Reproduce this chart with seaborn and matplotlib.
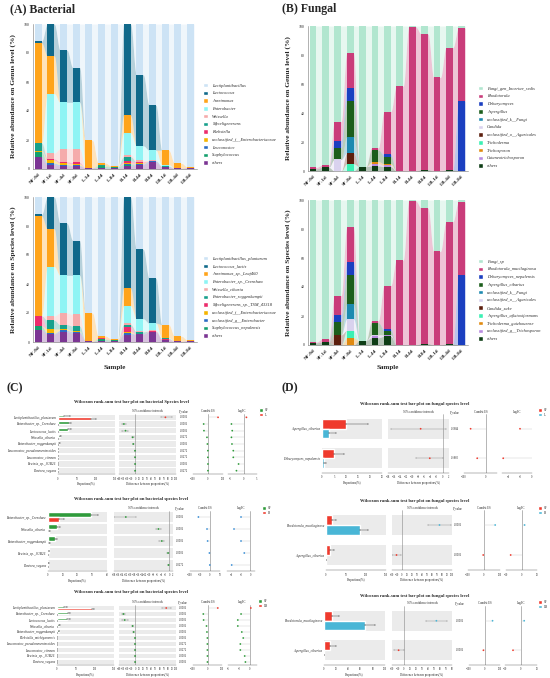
import numpy as np
import pandas as pd
import matplotlib
matplotlib.use('Agg')
import matplotlib.pyplot as plt
from matplotlib.patches import Patch
import seaborn as sns

sns.set_style('white')
plt.rcParams['font.family'] = ['Liberation Serif', 'DejaVu Serif']
plt.rcParams['axes.linewidth'] = 0.4

W, H = 550, 678

# ---------------- 数据 ----------------
samples = ['NF-0d', 'SF-1d', 'SF-4d', 'SF-8d', 'L-1d', 'L-4d', 'L-8d',
           'B-1d', 'B-4d', 'B-8d', 'LB-1d', 'LB-4d', 'LB-8d']

bac_genus_names = ['Lactiplantibacillus', 'Lactococcus', 'Aureimonas', 'Enterobacter', 'Weissella',
                   'Myceligenerans', 'Klebsiella', 'unclassified_f__Enterobacteriaceae',
                   'Leuconostoc', 'Staphylococcus', 'others']
bac_genus_values = [
    [12, 0, 18, 30, 80.2, 95.8, 97.7, 0, 35, 56, 87, 96, 98.5],
    [1, 22, 36, 24, 0, 0, 0, 63, 49, 31, 0, 0, 0],
    [69, 26, 0, 0, 19, 1.5, 0.8, 12, 0, 0, 10, 3.5, 0.5],
    [0, 41, 32, 32, 0, 0, 0, 15, 10, 7, 1, 0, 0],
    [0, 4, 9, 9.5, 0, 0, 0, 1.5, 1, 0.5, 0, 0, 0],
    [5.5, 0, 0, 0, 0, 0.4, 0.2, 3, 0, 0, 0.5, 0, 0],
    [0, 1, 1, 1, 0, 0, 0, 1.5, 1, 0, 0, 0, 0],
    [0.5, 2, 1, 1, 0, 0.5, 0, 0.5, 0.5, 0, 0, 0, 0],
    [0, 1, 1, 0.5, 0, 0, 0, 0.5, 0.5, 1, 0, 0, 0],
    [4, 0, 0, 0, 0, 1, 0.8, 1, 0, 0, 0, 0, 0],
    [8, 3, 2, 2, 0.8, 0.8, 0.5, 2, 3, 4.5, 1.5, 0.5, 1],
]

bac_species_names = ['Lactiplantibacillus_plantarum', 'Lactococcus_lactis', 'Aureimonas_sp._Leaf460',
                     'Enterobacter_sp._Crenshaw', 'Weissella_cibaria', 'Enterobacter_roggenkampii',
                     'Myceligenerans_sp._TSM_43318', 'unclassified_f__Enterobacteriaceae',
                     'unclassified_g__Enterobacter', 'Staphylococcus_nepalensis', 'others']
bac_species_values = [
    [12, 0, 18, 30, 80, 95.8, 97.7, 0, 36, 56, 88, 96, 98.5],
    [1, 22, 36, 24, 0, 0, 0, 63, 48, 31, 0, 0, 0],
    [69, 26, 0, 0, 19.5, 1.5, 0.8, 12, 0, 0, 9, 3.5, 0.5],
    [0, 34, 26, 27, 0, 0, 0, 12, 8.5, 5, 0.5, 0, 0],
    [0, 3, 8, 8, 0, 0, 0, 1, 0.5, 0.5, 0, 0, 0],
    [0, 6, 3, 3.5, 0, 0, 0, 1.5, 1.5, 0, 0.5, 0, 0],
    [7, 0, 0, 0, 0, 0.4, 0.2, 3.5, 0, 0.5, 0.5, 0, 0],
    [0, 3, 1, 0.5, 0, 0.5, 0, 1, 0, 0, 0, 0, 0],
    [0, 0.5, 1, 1, 0, 0, 0, 1, 0, 0, 0, 0, 0],
    [2.5, 0, 0, 0, 0, 1, 0.8, 0, 0, 0, 0, 0, 0],
    [8.5, 5.5, 7, 6, 0.5, 0.8, 0.5, 5, 5.5, 7, 1.5, 0.5, 1],
]

fun_genus_names = ['Fungi_gen_Incertae_sedis', 'Rhodotorula', 'Debaryomyces', 'Aspergillus',
                   'unclassified_k__Fungi', 'Candida', 'unclassified_o__Agaricales', 'Trichoderma',
                   'Trichosporon', 'Cutaneotrichosporon', 'others']
fun_genus_values = [
    [97.5, 96, 66, 18.5, 97, 84, 59, 41.5, 0.5, 5.5, 35.5, 15, 1.5],
    [1, 1.5, 13, 24, 0, 1.5, 29.5, 58.5, 99.5, 93.5, 64.5, 84.2, 50.5],
    [0, 0, 5, 9.5, 0, 0, 1.5, 0, 0, 0, 0, 0, 48],
    [0, 0, 8, 24.5, 0, 8, 5, 0, 0, 0, 0, 0, 0],
    [0, 0, 0, 11, 0, 0, 0, 0, 0, 0, 0, 0, 0],
    [0, 0, 8, 0, 0, 0, 0, 0, 0, 0, 0, 0, 0],
    [0, 0, 0, 7.5, 0, 0, 0, 0, 0, 0, 0, 0, 0],
    [0, 0, 0, 5, 0, 0, 0, 0, 0, 0, 0, 0, 0],
    [0, 0, 0, 0, 0, 1.5, 1.2, 0, 0, 0, 0, 0, 0],
    [0, 0, 0, 0, 0, 1.5, 0.8, 0, 0, 0, 0, 0, 0],
    [1.5, 2.5, 0, 0, 3, 3.5, 3, 0, 0, 1, 0, 0.8, 0],
]

fun_species_names = ['Fungi_sp', 'Rhodotorula_mucilaginosa', 'Debaryomyces_nepalensis', 'Aspergillus_cibarius',
                     'unclassified_k__Fungi', 'unclassified_o__Agaricales', 'Candida_sake',
                     'Aspergillus_aflatoxiformans', 'Trichoderma_guizhouense', 'unclassified_g__Trichosporon',
                     'others']
fun_species_values = [
    [98, 96, 66, 18.5, 97, 83.2, 59, 41.5, 0.5, 5.5, 35.5, 15, 1.5],
    [0.5, 2, 13, 24, 0, 1.4, 30, 58.5, 99.5, 93.5, 64.5, 84.2, 50.5],
    [0, 0, 5, 9.5, 0, 0, 1.5, 0, 0, 0, 0, 0, 48],
    [0, 0, 9, 20, 0, 8.4, 2.5, 0, 0, 0, 0, 0, 0],
    [0, 0, 0, 10, 0, 0, 0, 0, 0, 0, 0, 0, 0],
    [0, 0, 0, 8, 0, 0.8, 0, 0, 0, 0, 0, 0, 0],
    [0, 0, 7, 0, 0, 0, 0, 0, 0, 0, 0, 0, 0],
    [0, 0, 0, 5, 0, 0, 0, 0, 0, 0, 0, 0, 0],
    [0, 0, 0, 5, 0, 0, 0, 0, 0, 0, 0, 0, 0],
    [0, 0, 0, 0, 0, 1.2, 1, 0, 0, 0, 0, 0, 0],
    [1.5, 2, 0, 0, 3, 5, 6, 0, 0, 1, 0, 0.8, 0],
]

bac_colors = ['#cde3f5', '#10698a', '#ffa41b', '#8ff4f4', '#f5abab', '#17a08c',
              '#ec2c6c', '#f5b400', '#2b6cc4', '#14a06e', '#7b3593']
fun_colors = ['#b1e6cf', '#c93c7a', '#1b3fc0', '#1c5e1c', '#1d8ab0', '#d9d2ee',
              '#5c1f0e', '#3cf0b4', '#e08a10', '#b98be0', '#0e3d16']

# Wilcoxon 数据
c1_names = ['Lactiplantibacillus_plantarum', 'Enterobacter_sp._Crenshaw', 'Lactococcus_lactis',
            'Weissella_cibaria', 'Enterobacter_roggenkampii', 'Leuconostoc_pseudomesenteroides',
            'Leuconostoc_citreum', 'Erwinia_sp._JUB26', 'Pantoea_vagans']
c1_sf = [15, 28, 26.5, 5, 3.5, 0.8, 0.6, 0.4, 0.3]
c1_l = [88, 0.3, 0.2, 0.3, 0.1, 0.05, 0.05, 0.02, 0.02]
c1_sf_err = [16, 5, 7, 3, 1, 0.5, 0.4, 0.3, 0.2]
c1_l_err = [12, 0.3, 0.2, 0.3, 0.1, 0.05, 0.05, 0.02, 0.02]
c1_diff = [74, -28, -24, -6.5, -5, -0.6, -0.5, -0.4, -0.3]
c1_lo = [62, -32, -32, -8, -6, -1, -1, -0.8, -0.6]
c1_hi = [90, -24, -18, -4, -3.5, 0, 0, 0, 0]
c1_p = ['0.0006', '0.0006', '0.0006', '0.0272', '0.0006', '0.0272', '0.0272', '0.0006', '0.0272']
c1_es = [67, -29, -27, -7, -4, -1, -1, -0.5, -0.5]
c1_fc = [1, -4.7, -4.4, -4.7, -4.5, -4, -4, -2, -2.8]

c2_names = ['Enterobacter_sp._Crenshaw', 'Weissella_cibaria', 'Enterobacter_roggenkampii',
            'Erwinia_sp._JUB26', 'Pantoea_vagans']
c2_sf = [29, 6, 4.5, 0.4, 0.3]
c2_b = [7.5, 1, 1, 0.05, 0.05]
c2_sf_err = [5, 2, 1.5, 0.3, 0.2]
c2_b_err = [3.5, 0.5, 0.5, 0.05, 0.05]
c2_diff = [-22, -5.4, -3.7, -0.5, -0.3]
c2_lo = [-28, -6.5, -5, -0.8, -0.6]
c2_hi = [-17, -4, -2.5, -0.2, -0.1]
c2_p = ['0.0006', '0.0006', '0.0006', '0.0006', '0.0272']
c2_es = [-58, -15, -12, -3, -1]
c2_fc = [-2, -3.5, -2, -1.3, -4]

c3_names = ['Lactiplantibacillus_plantarum', 'Enterobacter_sp._Crenshaw', 'Lactococcus_lactis',
            'Weissella_cibaria', 'Enterobacter_roggenkampii', 'Klebsiella_michiganensis',
            'Leuconostoc_pseudomesenteroides', 'Leuconostoc_citreum', 'Erwinia_sp._JUB26', 'Pantoea_vagans']
c3_sf = [17.5, 29, 27, 6, 4.5, 0.6, 0.8, 0.6, 0.4, 0.3]
c3_lb = [93, 0.5, 0.1, 0.1, 0.2, 0.05, 0.05, 0.05, 0.02, 0.02]
c3_sf_err = [9, 5, 7, 2, 1.5, 0.4, 0.5, 0.4, 0.3, 0.2]
c3_lb_err = [5, 0.3, 0.1, 0.1, 0.1, 0.05, 0.05, 0.05, 0.02, 0.02]
c3_diff = [76, -29, -26, -6.5, -4, -0.6, -0.7, -0.5, -0.4, -0.3]
c3_lo = [66, -33, -33, -8, -5.5, -1, -1, -1, -0.8, -0.6]
c3_hi = [88, -25, -19, -5, -2.5, 0, 0, 0, 0, 0]
c3_p = ['0.0006', '0.0006', '0.0006', '0.0006', '0.0006', '0.0006', '0.0272', '0.0272', '0.0006', '0.0006']
c3_es = [71, -29, -27, -7, -4, -1, -1, -1, -0.5, -0.5]
c3_fc = [0.3, -2.4, -3.3, -3.3, -2.2, -1.8, -2.6, -2.6, -1.4, -1.2]

d1_names = ['Aspergillus_cibarius', 'Debaryomyces_nepalensis']
d1_sf = [10, 4.8]
d1_l = [3, 0.8]
d1_sf_err = [9, 4.4]
d1_l_err = [3, 0.7]
d1_diff = [-7.3, -4.3]
d1_lo = [-16.9, -8.7]
d1_hi = [1.0, 0]
d1_p = ['0.1984', '0.1860']
d1_es = [-70, -40]
d1_fc = [-2, -4.8]

d2_names = ['Rhodotorula_mucilaginosa', 'Aspergillus_cibarius']
d2_sf = [15, 11]
d2_b = [85, 0.1]
d2_sf_err = [10, 10]
d2_b_err = [21, 0.1]
d2_diff = [75, -11]
d2_lo = [52, -20]
d2_hi = [98, -2]
d2_p = ['0.0006', '0.0006']
d2_es = [70, -5]
d2_fc = [2, -7]

d3_names = ['Rhodotorula_mucilaginosa', 'Aspergillus_cibarius']
d3_sf = [13, 10]
d3_lb = [67, 0.1]
d3_sf_err = [11, 9]
d3_lb_err = [17, 0.1]
d3_diff = [54, -9]
d3_lo = [36, -17]
d3_hi = [72, -0.5]
d3_p = ['0.0006', '0.0006']
d3_es = [52, -7]
d3_fc = [2, -5]

# ---------------- 画图 ----------------
fig = plt.figure(figsize=(5.5, 6.78), dpi=100)


def rect(x0, y0, x1, y1):
    return [x0 / W, 1 - y1 / H, (x1 - x0) / W, (y1 - y0) / H]


def flow_path(x, vals, w):
    # 柱子之间用平滑的 S 形曲线连接（冲积图效果）
    t = np.linspace(0, 1, 16)
    s = (1 - np.cos(np.pi * t)) / 2
    xs, ys = [], []
    for i in range(len(x)):
        xs += [x[i] - w / 2, x[i] + w / 2]
        ys += [vals[i], vals[i]]
        if i < len(x) - 1:
            x0, x1 = x[i] + w / 2, x[i + 1] - w / 2
            xs += list(x0 + (x1 - x0) * t[1:-1])
            ys += list(vals[i] + (vals[i + 1] - vals[i]) * s[1:-1])
    return np.array(xs), np.array(ys)


def stacked(box, names, colors, values, ylabel, ylab_x, leg_xy, show_xlabel):
    ax = fig.add_axes(rect(*box))
    x = np.arange(len(samples))
    w = 0.55
    base = np.zeros(len(x))
    for name, col, vals in reversed(list(zip(names, colors, values))):
        vals = np.array(vals, float)
        xs, lo = flow_path(x, base, w)
        _, hi = flow_path(x, base + vals, w)
        ax.fill_between(xs, lo, hi, color=col, alpha=0.3, lw=0, zorder=1)
        ax.bar(x, vals, w, bottom=base, color=col, lw=0, zorder=2)
        base = base + vals
    ax.set_xlim(-0.4, len(x) - 0.5)
    ax.set_ylim(0, 100)
    ax.set_yticks([0, 20, 40, 60, 80, 100])
    ax.tick_params(axis='y', labelsize=2.8, length=1.5, width=0.3, pad=1)
    ax.set_xticks(x)
    ax.set_xticklabels(samples, rotation=45, ha='right', rotation_mode='anchor',
                       fontsize=3.6, fontweight='bold')
    ax.tick_params(axis='x', length=1.5, width=0.3, pad=1)
    sns.despine(ax=ax)
    for s in ['left', 'bottom']:
        ax.spines[s].set_color('#777777')
    yc = (box[1] + box[3]) / 2
    fig.text(ylab_x / W, 1 - yc / H, ylabel, rotation=90, ha='center', va='center',
             fontsize=5.3, fontweight='bold')
    if show_xlabel:
        fig.text((box[0] + box[2]) / 2 / W, 1 - 367 / H, 'Sample', ha='center', va='center',
                 fontsize=5, fontweight='bold')
    handles = [Patch(facecolor=c, label=n) for n, c in zip(names, colors)]
    fig.legend(handles=handles, loc='upper left', bbox_to_anchor=(leg_xy[0] / W, 1 - leg_xy[1] / H),
               frameon=False, prop={'style': 'italic', 'size': 3.2}, handlelength=1.15,
               handleheight=1.15, labelspacing=0.68, handletextpad=0.9, borderpad=0, borderaxespad=0)


stacked((33, 24, 197, 169), bac_genus_names, bac_colors, bac_genus_values,
        'Relative abundance on Genus level (%)', 13, (203, 83), False)
stacked((33, 197, 197, 342), bac_species_names, bac_colors, bac_species_values,
        'Relative abundance on Species level (%)', 13, (203, 256), True)
stacked((308, 26, 468, 171), fun_genus_names, fun_colors, fun_genus_values,
        'Relative abundance on Genus level (%)', 288, (478, 86), False)
stacked((308, 200, 468, 345), fun_species_names, fun_colors, fun_species_values,
        'Relative abundance on Species level (%)', 288, (478, 259), True)

fig.text(10 / W, 1 - 9 / H, '(A) Bacterial', fontsize=8.5, fontweight='bold', va='center')
fig.text(282 / W, 1 - 9 / H, '(B) Fungal', fontsize=8.5, fontweight='bold', va='center')
fig.text(6 / W, 1 - 388 / H, '(C)', fontsize=8.5, fontweight='bold', va='center')
fig.text(282 / W, 1 - 388 / H, '(D)', fontsize=8.5, fontweight='bold', va='center')


def small_axis(ax, n, xlim, ticks):
    ax.set_ylim(n - 0.5, -0.5)
    ax.set_xlim(*xlim)
    ax.set_xticks(ticks)
    ax.set_yticks([])
    ax.tick_params(axis='x', labelsize=1.9, length=1, width=0.3, pad=0.8)
    for s in ['left', 'top', 'right']:
        ax.spines[s].set_visible(False)
    ax.spines['bottom'].set_color('#555555')
    ax.spines['bottom'].set_linewidth(0.3)
    ax.patch.set_alpha(0)


def wilcox(g, title, names, v1, v2, e1, e2, diff, lo, hi, pv, es, fc, groups, cols,
           bar_lim, bar_ticks, ci_lim, ci_ticks, es_lim, es_ticks, fc_lim, fc_ticks, es_col=None):
    n = len(names)
    y = np.arange(n)
    top, bot = g['rows']
    band = 0.34 if n <= 2 else 0.4
    dot_cols = [cols[0] if d < 0 else cols[1] for d in diff]
    es_cols = dot_cols if es_col is None else [es_col] * n

    # 比例条形图
    ax = fig.add_axes(rect(g['bar'][0], top, g['bar'][1], bot))
    for i in y:
        ax.axhspan(i - band, i + band, color='#ebebeb', lw=0, zorder=0)
    df = pd.DataFrame({'name': names * 2, 'group': [groups[0]] * n + [groups[1]] * n,
                       'value': list(v1) + list(v2)})
    sns.barplot(data=df, x='value', y='name', hue='group', palette=cols, orient='h', ax=ax,
                width=band * 2 - 0.04, errorbar=None, saturation=1, legend=False, zorder=2)
    off = (band * 2 - 0.04) / 4
    ax.errorbar(v1, y - off, xerr=[np.zeros(n), e1], fmt='none', ecolor='#333333',
                elinewidth=0.3, capsize=0.8, capthick=0.3, zorder=3)
    ax.errorbar(v2, y + off, xerr=[np.zeros(n), e2], fmt='none', ecolor='#333333',
                elinewidth=0.3, capsize=0.8, capthick=0.3, zorder=3)
    small_axis(ax, n, bar_lim, bar_ticks)
    ax.set_yticks(y)
    ax.set_yticklabels(names, fontsize=2.4, style='italic')
    ax.tick_params(axis='y', length=0, pad=1.5)
    ax.set_ylabel('')
    ax.set_xlabel('Proportions(%)', fontsize=2.2, labelpad=1)

    # 置信区间
    ax2 = fig.add_axes(rect(g['ci'][0], top, g['ci'][1], bot))
    for i in y:
        ax2.axhspan(i - band, i + band, color='#ebebeb', lw=0, zorder=0)
    ax2.axvline(0, color='#888888', lw=0.4, zorder=1)
    ax2.errorbar(diff, y, xerr=[np.array(diff) - np.array(lo), np.array(hi) - np.array(diff)],
                 fmt='none', ecolor='#888888', elinewidth=0.3, capsize=0.8, capthick=0.3, zorder=2)
    ax2.scatter(diff, y, s=1.6, c=dot_cols, lw=0, zorder=3)
    small_axis(ax2, n, ci_lim, ci_ticks)
    ax2.set_xlabel('Difference between proportions(%)', fontsize=2.2, labelpad=1)

    # P 值
    step = (bot - top) / n
    for i in y:
        fig.text(g['p'] / W, 1 - (top + (i + 0.5) * step) / H, pv[i], ha='center', va='center',
                 fontsize=2.1)

    # 效应量 / LogFC
    for key, vals, lim, ticks in [('es', es, es_lim, es_ticks), ('fc', fc, fc_lim, fc_ticks)]:
        a = fig.add_axes(rect(g[key][0], top, g[key][1], bot))
        a.axvline(0, color='#999999', lw=0.5, zorder=1)
        a.hlines(y, 0, vals, color='#c8c8c8', lw=0.3, zorder=1)
        a.scatter(vals, y, s=1.6, c=es_cols, lw=0, zorder=3)
        small_axis(a, n, lim, ticks)

    hy = 1 - g['head'] / H
    fig.text(sum(g['ci']) / 2 / W, hy, '95% confidence intervals', ha='center', va='center', fontsize=2.2)
    fig.text(g['p'] / W, hy, 'P_value', ha='center', va='center', fontsize=2.2)
    fig.text(sum(g['es']) / 2 / W, hy, 'Cumlist ES', ha='center', va='center', fontsize=2.2)
    fig.text(sum(g['fc']) / 2 / W, hy, 'LogFC', ha='center', va='center', fontsize=2.2)
    fig.text(g['tx'] / W, 1 - g['title'] / H, title, ha='center', va='center', fontsize=3.3,
             fontweight='bold')
    handles = [Patch(facecolor=cols[0], label=groups[0]), Patch(facecolor=cols[1], label=groups[1])]
    fig.legend(handles=handles, loc='upper left', bbox_to_anchor=(g['leg'][0] / W, 1 - g['leg'][1] / H),
               frameon=False, fontsize=2.3, handlelength=1.3, handleheight=1.3, labelspacing=0.25,
               handletextpad=0.4, borderpad=0, borderaxespad=0)


green, red, blue = '#2f9b3b', '#ef3a2d', '#49b6d6'
bac_title = 'Wilcoxon rank-sum test bar plot on bacterial species level'
fun_title = 'Wilcoxon rank-sum test bar plot on fungal species level'

wilcox(dict(rows=(414, 474), bar=(58, 115), ci=(119, 176), p=184, es=(193, 223), fc=(228, 257),
            title=402, tx=131, head=411, leg=(259, 408)),
       'Wilcoxon rank-sum test bar plot on bacterial Species level', c1_names, c1_sf, c1_l,
       c1_sf_err, c1_l_err, c1_diff, c1_lo, c1_hi, c1_p, c1_es, c1_fc, ['SF', 'L'], [green, red],
       (0, 150), [0, 50, 100, 150], (-40, 100), np.arange(-40, 101, 10),
       (-100, 100), [-100, 0, 100], (-6, 5), [-5, 0, 5])

wilcox(dict(rows=(511, 571), bar=(48, 107), ci=(114, 173), p=180, es=(190, 220), fc=(227, 255),
            title=499, tx=131, head=508, leg=(262, 506)),
       bac_title, c2_names, c2_sf, c2_b, c2_sf_err, c2_b_err, c2_diff, c2_lo, c2_hi, c2_p,
       c2_es, c2_fc, ['SF', 'B'], [green, red],
       (0, 40), [0, 10, 20, 30, 40], (-28, 2), np.arange(-28, 3, 2),
       (-100, 50), [-100, -50, 0, 50], (-5, 1), [-4, -2, 0], es_col='#3a8fd6')

wilcox(dict(rows=(605, 665), bar=(57, 114), ci=(119, 176), p=183, es=(193, 222), fc=(228, 257),
            title=592, tx=131, head=602, leg=(258, 599)),
       bac_title, c3_names, c3_sf, c3_lb, c3_sf_err, c3_lb_err, c3_diff, c3_lo, c3_hi, c3_p,
       c3_es, c3_fc, ['SF', 'LB'], [green, red],
       (0, 150), [0, 50, 100, 150], (-40, 100), np.arange(-40, 101, 10),
       (-100, 100), [-100, 0, 100], (-6, 2), [-6, -3, 0])

wilcox(dict(rows=(414, 473), bar=(322, 382), ci=(388, 449), p=455, es=(464, 497), fc=(502, 532),
            title=404, tx=415, head=412, leg=(538, 408)),
       fun_title, d1_names, d1_sf, d1_l, d1_sf_err, d1_l_err, d1_diff, d1_lo, d1_hi, d1_p,
       d1_es, d1_fc, ['SF', 'L'], [red, blue],
       (0, 25), [0, 5, 10, 15, 20, 25], (-18, 2), np.arange(-18, 3, 2),
       (-100, 50), [-100, 0], (-5, 0), [-4, -2, 0])

wilcox(dict(rows=(510, 570), bar=(326, 386), ci=(392, 452), p=458, es=(468, 500), fc=(506, 537),
            title=501, tx=415, head=508, leg=(538, 506)),
       fun_title, d2_names, d2_sf, d2_b, d2_sf_err, d2_b_err, d2_diff, d2_lo, d2_hi, d2_p,
       d2_es, d2_fc, ['SF', 'B'], [red, blue],
       (0, 150), [0, 50, 100, 150], (-20, 100), np.arange(-20, 101, 10),
       (-100, 100), [-100, 0, 100], (-10, 10), [-10, 0, 10])

wilcox(dict(rows=(606, 665), bar=(324, 385), ci=(392, 452), p=460, es=(469, 500), fc=(505, 537),
            title=596, tx=415, head=603, leg=(538, 600)),
       fun_title, d3_names, d3_sf, d3_lb, d3_sf_err, d3_lb_err, d3_diff, d3_lo, d3_hi, d3_p,
       d3_es, d3_fc, ['SF', 'LB'], [red, blue],
       (0, 100), [0, 20, 40, 60, 80, 100], (-20, 80), np.arange(-20, 81, 10),
       (-100, 100), [-100, 0, 100], (-10, 10), [-10, 0, 10])

fig.savefig('out.png', dpi=100)
